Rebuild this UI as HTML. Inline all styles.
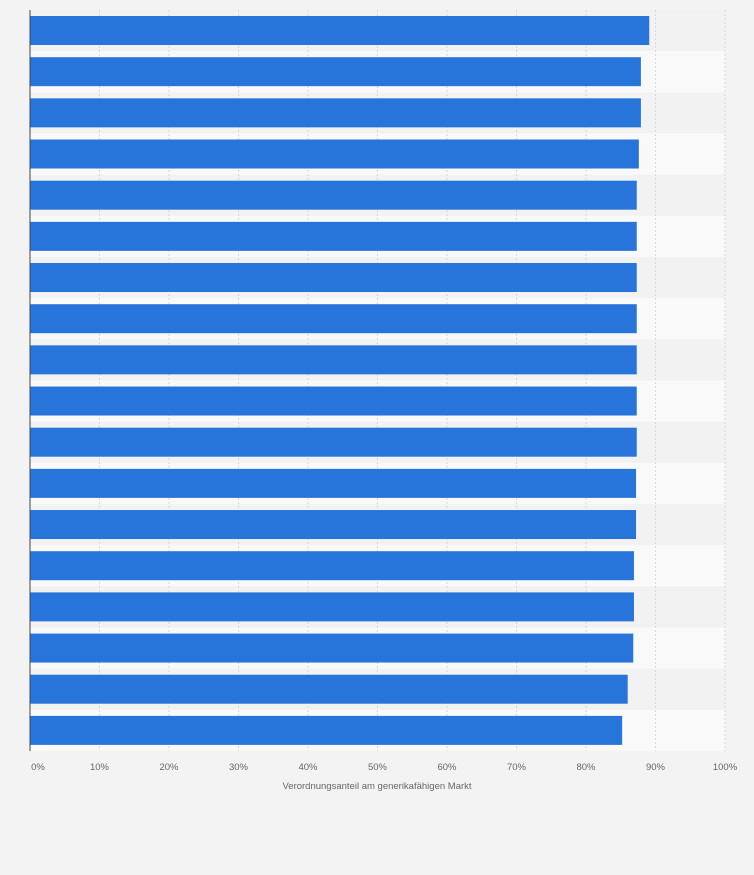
<!DOCTYPE html>
<html><head><meta charset="utf-8"><style>
body{margin:0;background:#f3f3f3;font-family:"Liberation Sans",sans-serif}
</style></head><body>
<svg id="chart" width="754" height="870" xmlns="http://www.w3.org/2000/svg"></svg>
<script>
const categories=["R1","R2","R3","R4","R5","R6","R7","R8","R9","R10","R11","R12","R13","R14","R15","R16","R17","R18"];
const values=[89.1,87.9,87.9,87.6,87.3,87.3,87.3,87.3,87.3,87.3,87.3,87.2,87.2,86.9,86.9,86.8,86.0,85.2];
const ticks=[0,10,20,30,40,50,60,70,80,90,100];
const axisTitle="Verordnungsanteil am generikafähigen Markt";
const svg=document.getElementById('chart');
const NS="http://www.w3.org/2000/svg";
const x0=30,x1=725,topY=10,rowH=41.17,barH=29;
const xs=v=>x0+(v/100)*(x1-x0);
function mk(t,a,p){const e=document.createElementNS(NS,t);for(const k in a)e.setAttribute(k,a[k]);(p||svg).appendChild(e);return e;}
categories.forEach((c,i)=>{
 const r=mk('rect',{x:x0,y:topY+i*rowH,width:x1-x0,height:rowH,fill:i%2?'#f9f9f9':'#f2f2f2'});
 
 
});
ticks.forEach(t=>{
 if(t===0)return;
 const l=mk('line',{x1:xs(t),x2:xs(t),y1:topY,y2:topY+18*rowH,stroke:'#d8d8d8','stroke-dasharray':'2,2'});
 
 
});
categories.forEach((c,i)=>{
 const b=mk('rect',{x:x0,y:topY+i*rowH+6,width:xs(values[i])-x0,height:barH,fill:'#2775db'});
 
 
});
const ax=mk('line',{x1:x0,x2:x0,y1:topY,y2:topY+18*rowH,stroke:'#444','stroke-width':1});


ticks.forEach(t=>{
 const tx=mk('text',{x:t===0?x0+8:xs(t),y:770,'text-anchor':'middle','font-size':9.5,fill:'#666'});
 tx.textContent=t+'%';
 
 
});
const tt=mk('text',{x:377,y:789,'text-anchor':'middle','font-size':9.5,fill:'#666'});
tt.textContent=axisTitle;


</script>
</body></html>
